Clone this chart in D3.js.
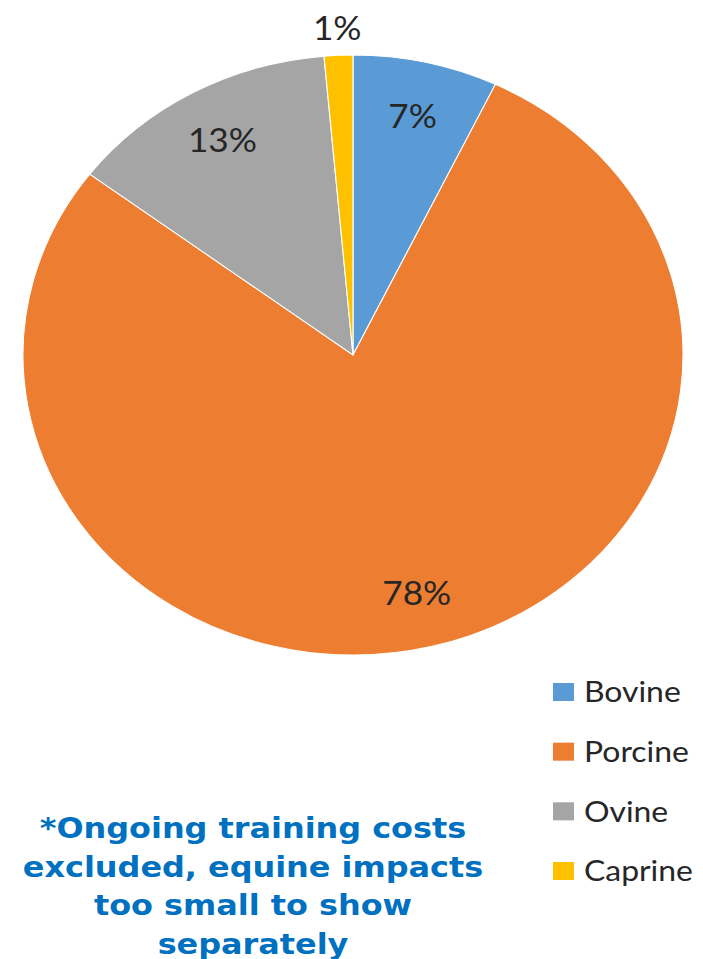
<!DOCTYPE html>
<html>
<head>
<meta charset="utf-8">
<script src="https://cdn.jsdelivr.net/npm/d3@7"></script>
<style>
  body { margin: 0; background: #fff; }
</style>
</head>
<body>
<div id="container"></div>
<script>
let w = 703;
let h = 959;

// data
let species = ["Bovine", "Porcine", "Ovine", "Caprine"];
let shares = [7.1, 78.2, 13.3, 1.4];
let colors = ["#5B9BD5", "#ED7D31", "#A5A5A5", "#FFC000"];
let noteLines = ["*Ongoing training costs", "excluded, equine impacts", "too small to show", "separately"];

let viz = d3.select("#container")
  .append("svg")
    .attr("width", w)
    .attr("height", h)
    .style("background-color", "#ffffff");

// the pie is a bit wider than tall, so draw a circle and stretch it
let cx = 353, cy = 355;
let r = 300;
let sx = 1.1;

let pie = d3.pie().sort(null).value(d => d);
let arcs = pie(shares);
let arc = d3.arc().innerRadius(0).outerRadius(r);

let pieG = viz.append("g")
  .attr("transform", "translate(" + cx + "," + cy + ") scale(" + sx + ",1)");

pieG.selectAll("path")
  .data(arcs)
  .enter()
  .append("path")
    .attr("d", arc)
    .attr("fill", (d, i) => colors[i])
    .attr("stroke", "#ffffff")
    .attr("stroke-width", 1);

// labels: inside for the big ones, outside for the tiny slice
function labelPos(d) {
  let lr = (d.endAngle - d.startAngle) < 0.2 ? 327 : 245;
  let a = (d.startAngle + d.endAngle) / 2;
  return [cx + Math.sin(a) * lr * sx, cy - Math.cos(a) * lr];
}

viz.selectAll(".lbl")
  .data(arcs)
  .enter()
  .append("text")
    .attr("class", "lbl")
    .attr("transform", d => "translate(" + labelPos(d)[0] + "," + labelPos(d)[1] + ") scale(" + sx + ",1)")
    .attr("text-anchor", "middle")
    .attr("dy", "0.36em")
    .attr("style", "font-size:32px; font-family: Lato, 'Open Sans', sans-serif;")
    .attr("fill", "#262626")
    .text(d => Math.round(d.data) + "%");

// legend
let legendY = d3.scalePoint().domain(species).range([692, 871]);

let leg = viz.selectAll(".leg")
  .data(species)
  .enter()
  .append("g")
    .attr("class", "leg")
    .attr("transform", d => "translate(553," + legendY(d) + ")");

leg.append("rect")
    .attr("x", 0)
    .attr("y", -9)
    .attr("width", 21)
    .attr("height", 18)
    .attr("fill", (d, i) => colors[i]);

leg.append("text")
    .attr("transform", "translate(31,0) scale(" + sx + ",1)")
    .attr("dy", "0.36em")
    .attr("style", "font-size:29px; font-family: Lato, 'Open Sans', sans-serif;")
    .attr("fill", "#262626")
    .text(d => d);

// footnote
viz.selectAll(".note")
  .data(noteLines)
  .enter()
  .append("text")
    .attr("class", "note")
    .attr("transform", (d, i) => "translate(253," + (838 + i * 38.5) + ") scale(" + sx + ",1)")
    .attr("text-anchor", "middle")
    .attr("style", "font-size:29px; font-weight:bold; font-family: 'DejaVu Sans', Verdana, sans-serif;")
    .attr("fill", "#0070C0")
    .text(d => d);
</script>
</body>
</html>
